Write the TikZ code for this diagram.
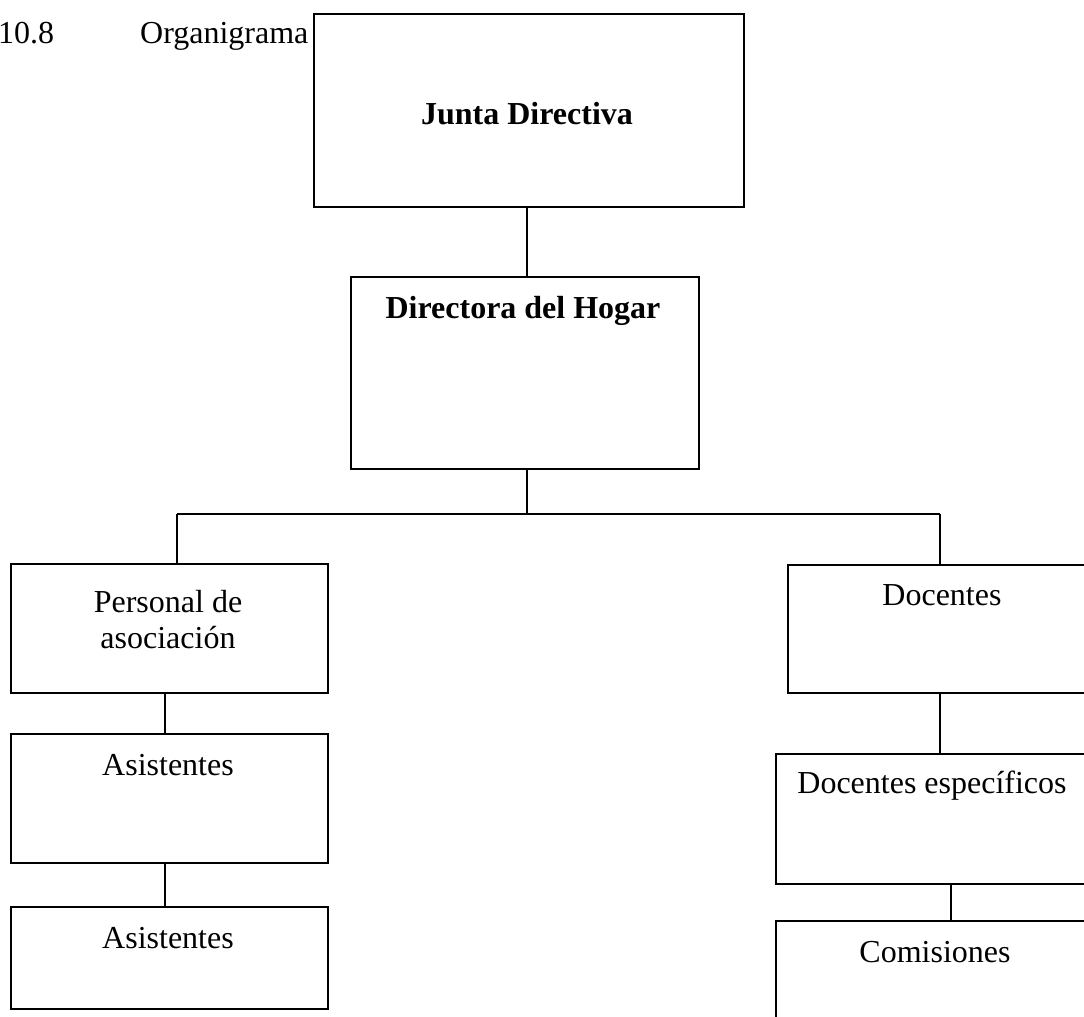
\documentclass[tikz,border=0pt]{standalone}
\usepackage{fontspec}
\setmainfont{Liberation Serif}
\begin{document}
\begin{tikzpicture}[x=1pt,y=-1pt,
  box/.style={draw=black,line width=2pt,rectangle,inner sep=0pt,anchor=north west},
  conn/.style={draw=black,line width=2pt},
  lbl/.style={anchor=base,inner sep=0pt,font=\fontsize{32}{37}\selectfont},
  blbl/.style={lbl,font=\fontsize{32}{37}\selectfont\bfseries}]
\useasboundingbox (0,0) rectangle (1084,1017);
\clip (0,0) rectangle (1084,1017);
% boxes
\node[box,minimum width=430pt,minimum height=193pt] (junta) at (313,13) {};
\node[box,minimum width=348pt,minimum height=192pt] (dir) at (350,276) {};
\node[box,minimum width=317pt,minimum height=129pt] (pers) at (10,563) {};
\node[box,minimum width=317pt,minimum height=129pt] (asis1) at (10,733) {};
\node[box,minimum width=317pt,minimum height=102pt] (asis2) at (10,906) {};
\node[box,minimum width=320pt,minimum height=128pt] (doc) at (787,564) {};
\node[box,minimum width=330pt,minimum height=130pt] (docesp) at (775,753) {};
\node[box,minimum width=330pt,minimum height=130pt] (com) at (775,920) {};
% texts
\node[lbl,anchor=base west] (num) at (-2,43) {10.8};
\node[lbl,anchor=base west] (title) at (140,43) {Organigrama};
\node[blbl] (tjunta) at (527,124) {Junta Directiva};
\node[blbl] (tdir) at (523,318) {Directora del Hogar};
\node[lbl] (tpers1) at (168,612) {Personal de};
\node[lbl] (tpers2) at (168,648) {asociación};
\node[lbl] (tdoc) at (942,605) {Docentes};
\node[lbl] (tasis1) at (168,775) {Asistentes};
\node[lbl] (tasis2) at (168,948) {Asistentes};
\node[lbl] (tdocesp) at (932,793) {Docentes específicos};
\node[lbl] (tcom) at (935,962) {Comisiones};
% coordinates for tree bar
\coordinate (barL) at (177,514);
\coordinate (barR) at (940,514);
\coordinate (barM) at (527,514);
% connectors
\draw[conn] (junta.south -| barM) -- (dir.north -| barM);
\draw[conn] (dir.south -| barM) -- (barM);
\draw[conn] (barL) -- (barR);
\draw[conn] (barL) -- (barL |- pers.north);
\draw[conn] (barR) -- (barR |- doc.north);
\draw[conn] (pers.south -| 165,0) -- (asis1.north -| 165,0);
\draw[conn] (asis1.south -| 165,0) -- (asis2.north -| 165,0);
\draw[conn] (doc.south -| 940,0) -- (docesp.north -| 940,0);
\draw[conn] (docesp.south -| 951,0) -- (com.north -| 951,0);
\end{tikzpicture}
\end{document}
